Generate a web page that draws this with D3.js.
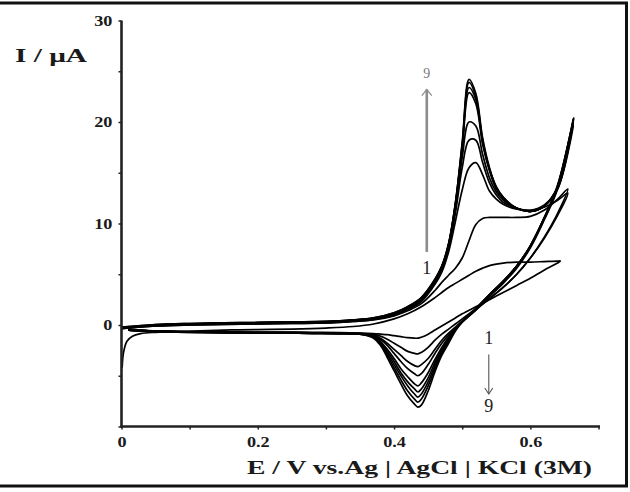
<!DOCTYPE html>
<html><head><meta charset="utf-8">
<script src="https://cdn.jsdelivr.net/npm/d3@7"></script>
<style>body{margin:0;background:#fff}svg{display:block}</style>
</head><body>
<svg id="chart" width="630" height="492"></svg>
<script>
// ---------- data ----------
const cycleNames = ["1","2","3","4","5","6","7","8","9"];
const transientE = [0.001, 0.003, 0.008, 0.016, 0.028];
const transientI = [-4.2, -2.7, -1.6, -1.1, -0.85];
const forwardE = [0.00,0.05,0.10,0.15,0.20,0.25,0.30,0.34,0.37,0.40,0.42,0.44,0.46,0.47,0.48,0.49,0.50,0.51,0.52,0.53,0.54,0.55,0.56,0.58,0.60,0.62,0.64];
const forwardI = [
  [null,-0.72,-0.6,-0.5,-0.45,-0.4,-0.3,-0.15,0.1,0.6,1.1,1.8,2.7,3.2,3.7,4.1,4.5,4.9,5.3,5.6,5.85,6.0,6.1,6.2,6.2,6.25,6.3],
  [-0.35,-0.1,0.0,0.05,0.1,0.15,0.2,0.35,0.5,0.9,1.4,2.1,3.4,4.2,4.9,5.6,6.6,8.3,9.9,10.5,10.6,10.6,10.6,10.6,10.7,11.3,12.4],
  [-0.35,-0.1,0.0,0.05,0.1,0.15,0.2,0.35,0.55,0.95,1.5,2.3,4.0,5.2,7.2,10.2,13.3,15.5,16.0,14.8,13.2,12.4,11.9,11.4,11.3,11.6,12.3],
  [-0.3,-0.05,0.05,0.1,0.15,0.2,0.25,0.4,0.6,1.0,1.55,2.4,4.2,5.5,7.6,11.0,15.5,18.2,18.2,16.0,14.0,12.8,12.1,11.5,11.3,11.8,13.4],
  [-0.3,-0.05,0.05,0.1,0.15,0.2,0.25,0.4,0.6,1.05,1.6,2.5,4.3,5.6,7.8,11.5,16.5,20.0,19.6,16.8,14.5,13.1,12.3,11.5,11.2,11.7,13.4],
  [-0.25,0.0,0.1,0.15,0.2,0.25,0.3,0.45,0.65,1.1,1.7,2.6,4.4,5.7,7.9,11.8,17.4,22.9,21.8,17.8,15.2,13.4,12.5,11.5,11.2,11.7,13.5],
  [-0.25,0.0,0.1,0.15,0.2,0.25,0.3,0.45,0.65,1.1,1.7,2.6,4.4,5.7,7.9,11.9,17.6,23.4,22.2,18.0,15.3,13.5,12.5,11.5,11.2,11.7,13.5],
  [-0.2,0.05,0.15,0.2,0.25,0.3,0.35,0.5,0.7,1.2,1.8,2.7,4.5,5.8,8.0,12.0,17.8,23.9,22.5,18.2,15.4,13.6,12.6,11.5,11.2,11.7,13.6],
  [-0.2,0.05,0.15,0.2,0.25,0.3,0.35,0.5,0.7,1.2,1.8,2.7,4.5,5.8,8.0,12.0,18.0,24.2,22.8,18.4,15.5,13.6,12.6,11.5,11.2,11.7,13.6]
];
const switchE = [0.644, 0.655, 0.655, 0.663, 0.663, 0.663, 0.663, 0.663, 0.664];
const switchI = [6.3, 13.4, 13.0, 19.6, 20.0, 20.1, 20.2, 20.3, 20.4];
const reverseE = [0.64,0.62,0.60,0.58,0.56,0.54,0.52,0.50,0.49,0.48,0.47,0.46,0.45,0.44,0.435,0.43,0.42,0.41,0.40,0.39,0.38,0.37,0.35,0.32,0.28,0.24,0.20,0.16,0.12,0.08,0.04,0.01];
const reverseI = [
  [6.1,5.4,4.6,3.9,3.2,2.5,1.8,1.1,0.7,0.3,-0.1,-0.5,-0.9,-1.2,-1.3,-1.3,-1.25,-1.15,-1.05,-0.95,-0.9,-0.85,-0.8,-0.75,-0.72,-0.7,-0.7,-0.68,-0.66,-0.62,-0.55,-0.4],
  [11.0,8.6,6.6,5.0,3.7,2.6,1.6,0.6,0.1,-0.4,-0.9,-1.5,-2.2,-2.7,-2.85,-2.8,-2.6,-2.2,-1.8,-1.4,-1.1,-0.9,-0.85,-0.8,-0.78,-0.75,-0.75,-0.72,-0.7,-0.65,-0.58,-0.45],
  [10.8,8.5,6.6,5.0,3.7,2.6,1.5,0.4,-0.2,-0.8,-1.5,-2.4,-3.3,-3.9,-4.1,-4.0,-3.6,-3.0,-2.4,-1.8,-1.3,-1.0,-0.85,-0.8,-0.78,-0.75,-0.75,-0.72,-0.7,-0.65,-0.58,-0.45],
  [13.4,10.3,7.6,5.6,4.1,2.8,1.5,0.3,-0.3,-1.0,-1.8,-2.8,-3.9,-4.8,-5.0,-4.8,-4.3,-3.6,-2.8,-2.0,-1.4,-1.0,-0.85,-0.8,-0.78,-0.75,-0.75,-0.72,-0.7,-0.65,-0.58,-0.45],
  [13.5,10.4,7.7,5.7,4.2,2.9,1.5,0.3,-0.4,-1.2,-2.2,-3.4,-4.7,-5.7,-6.0,-5.8,-5.1,-4.3,-3.3,-2.4,-1.6,-1.0,-0.85,-0.8,-0.78,-0.75,-0.75,-0.72,-0.7,-0.65,-0.58,-0.45],
  [13.6,10.5,7.8,5.8,4.3,2.9,1.5,0.3,-0.4,-1.4,-2.4,-3.7,-5.2,-6.3,-6.6,-6.3,-5.6,-4.7,-3.6,-2.6,-1.7,-1.1,-0.9,-0.85,-0.82,-0.8,-0.78,-0.76,-0.74,-0.7,-0.62,-0.5],
  [13.7,10.5,7.8,5.8,4.3,3.0,1.6,0.3,-0.5,-1.5,-2.6,-4.0,-5.6,-6.8,-7.1,-6.8,-6.0,-5.0,-3.9,-2.8,-1.8,-1.1,-0.9,-0.85,-0.82,-0.8,-0.78,-0.76,-0.74,-0.7,-0.62,-0.5],
  [13.7,10.5,7.8,5.8,4.3,3.0,1.6,0.3,-0.5,-1.6,-2.8,-4.3,-6.0,-7.3,-7.6,-7.3,-6.5,-5.4,-4.2,-3.0,-1.9,-1.2,-0.9,-0.85,-0.82,-0.8,-0.78,-0.76,-0.74,-0.7,-0.62,-0.5],
  [13.8,10.5,7.8,5.8,4.3,3.0,1.6,0.3,-0.6,-1.8,-3.0,-4.6,-6.5,-7.9,-8.1,-7.8,-7.0,-5.8,-4.5,-3.2,-2.0,-1.3,-0.9,-0.85,-0.82,-0.8,-0.78,-0.76,-0.74,-0.7,-0.62,-0.5]
];
const xTickValues = [0,0.1,0.2,0.3,0.4,0.5,0.6,0.7];
const xTickLabels = ["0","","0.2","","0.4","","0.6",""];
const yTickValues = [-10,-5,0,5,10,15,20,25,30];
const yTickLabels = ["","","0","","10","","20","","30"];

// ---------- drawing ----------
const svg = d3.select("#chart");
const x = d3.scaleLinear().domain([0, 0.7]).range([121.5, 598.5]);
const y = d3.scaleLinear().domain([-10, 30]).range([426.5, 20.5]);
const serif = "'Liberation Serif','Times New Roman',serif";

// frame
svg.append("path").attr("d","M0,3 H626.5 V486 H0").attr("fill","none")
   .attr("stroke","#111").attr("stroke-width",3);

// curves
const line = d3.line().x(d=>x(d[0])).y(d=>y(d[1])).curve(d3.curveCatmullRom.alpha(0.5));
cycleNames.forEach((name,i)=>{
  const pts = [];
  if (i === 0) transientE.forEach((e,k)=>pts.push([e, transientI[k]]));
  forwardE.forEach((e,k)=>{ const v = forwardI[i][k]; if (v != null) pts.push([e, v]); });
  pts.push([switchE[i], switchI[i]]);
  reverseE.forEach((e,k)=>pts.push([e, reverseI[i][k]]));
  svg.append("path").datum(pts).attr("d", line).attr("fill","none")
     .attr("stroke","#000").attr("stroke-width",1.7).attr("stroke-linejoin","round");
});

// axes
const gx = svg.append("g").attr("transform",`translate(0,${y(-10)})`)
  .call(d3.axisBottom(x).tickValues(xTickValues).tickSize(3).tickSizeOuter(0)
        .tickFormat((d,i)=>xTickLabels[i]));
const gy = svg.append("g").attr("transform",`translate(${x(0)},0)`)
  .call(d3.axisLeft(y).tickValues(yTickValues).tickSize(3).tickSizeOuter(0)
        .tickFormat((d,i)=>yTickLabels[i]));
[gx,gy].forEach(g=>{
  g.select(".domain").attr("stroke","#222").attr("stroke-width",2.6);
  g.selectAll(".tick line").attr("stroke","#222").attr("stroke-width",1.5);
  g.selectAll("text").attr("font-family",serif).attr("font-weight","bold")
    .attr("font-size",14).attr("fill","#1a1a1a");
});
gy.select(".domain").attr("d",`M0,${y(-10)+1}V${y(30)}`);
gx.select(".domain").attr("d",`M${x(0)-1},0H${x(0.7)+1.5}`);
gx.selectAll("text").attr("y",21).attr("dy",0).attr("transform","scale(1.3,1)");
gy.selectAll("text").attr("x",-7).attr("dy","0.34em").attr("transform","scale(1.3,1)");

// axis titles
svg.append("text").attr("x",15).attr("y",62).attr("font-family",serif).attr("font-weight","bold")
   .attr("font-size",18).attr("fill","#1a1a1a").attr("textLength",72).attr("lengthAdjust","spacingAndGlyphs")
   .text("I / \u03BCA");
svg.append("text").attr("x",247).attr("y",474).attr("font-family",serif).attr("font-weight","bold")
   .attr("font-size",18).attr("fill","#1a1a1a").attr("textLength",345).attr("lengthAdjust","spacingAndGlyphs")
   .text("E  / V vs.Ag | AgCl | KCl (3M)");

// annotation: anodic arrow 1 -> 9
const ax = x(0.448);
svg.append("line").attr("x1",ax).attr("x2",ax).attr("y1",y(7.2)).attr("y2",y(23.2))
   .attr("stroke","#8c8c8c").attr("stroke-width",2.6);
svg.append("path").attr("d",`M${ax-5},${y(23.2)+6}L${ax},${y(23.2)}L${ax+5},${y(23.2)+6}`)
   .attr("fill","none").attr("stroke","#8c8c8c").attr("stroke-width",1.2);
svg.append("text").attr("x",ax).attr("y",y(24.3)).attr("text-anchor","middle")
   .attr("font-family",serif).attr("font-size",14).attr("fill","#777").text("9");
svg.append("text").attr("x",ax).attr("y",y(5.0)).attr("text-anchor","middle")
   .attr("font-family",serif).attr("font-size",18).attr("fill","#222").text("1");

// annotation: cathodic arrow 1 -> 9
const cx = x(0.539);
svg.append("text").attr("x",cx).attr("y",y(-1.85)).attr("text-anchor","middle")
   .attr("font-family",serif).attr("font-size",18).attr("fill","#222").text("1");
svg.append("line").attr("x1",cx).attr("x2",cx).attr("y1",y(-2.9)).attr("y2",y(-6.8))
   .attr("stroke","#555").attr("stroke-width",1.1);
svg.append("path").attr("d",`M${cx-4},${y(-6.8)-6}L${cx},${y(-6.8)}L${cx+4},${y(-6.8)-6}`)
   .attr("fill","none").attr("stroke","#555").attr("stroke-width",1.1);
svg.append("text").attr("x",cx).attr("y",y(-8.55)).attr("text-anchor","middle")
   .attr("font-family",serif).attr("font-size",18).attr("fill","#222").text("9");
</script>
</body></html>
